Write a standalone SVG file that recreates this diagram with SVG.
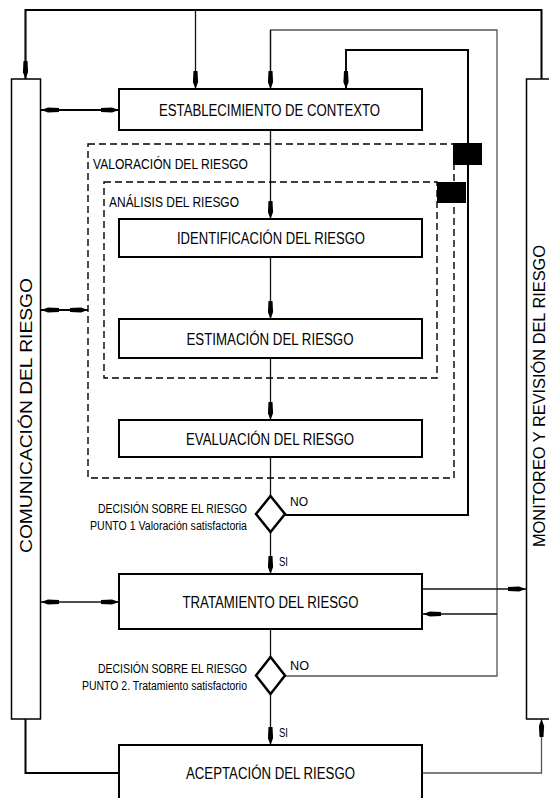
<svg xmlns="http://www.w3.org/2000/svg" width="549" height="798" viewBox="0 0 549 798">
<style>
.box{fill:#fff;stroke:#000;stroke-width:2}
.side{fill:#fff;stroke:#000;stroke-width:1.5}
.dash{fill:none;stroke:#000;stroke-width:1.4;stroke-dasharray:7,4}
.ln{fill:none;stroke:#111;stroke-width:1.3}
.lnb{fill:none;stroke:#000;stroke-width:2}
.lg{fill:none;stroke:#555;stroke-width:1.3}
.arr{marker-end:url(#ah)}
.dbl{marker-end:url(#ah);marker-start:url(#ahs)}
.dia{fill:#fff;stroke:#000;stroke-width:2.5}
text{font-family:"Liberation Sans",Arial,sans-serif;fill:#000}
.lbl{font-size:16px;text-anchor:middle}
.grp{font-size:14px}
.sm{font-size:12px}
</style>
<defs>
<marker id="ah" viewBox="-19 -3 19 6" refX="0" refY="0" markerWidth="19" markerHeight="6" markerUnits="userSpaceOnUse" orient="auto">
<path d="M0,0 L-7,-2.6 L-18,-2 L-18,2 L-7,2.6 Z" fill="#000"/>
</marker>
<marker id="ahs" viewBox="-19 -3 19 6" refX="0" refY="0" markerWidth="19" markerHeight="6" markerUnits="userSpaceOnUse" orient="auto-start-reverse">
<path d="M0,0 L-7,-2.6 L-18,-2 L-18,2 L-7,2.6 Z" fill="#000"/>
</marker>
</defs>
<rect width="549" height="798" fill="#fff"/>

<g id="connectors">
<!-- top feedback line -->
<path class="lnb" d="M25.5,79 V10 H541.5 V79"/>
<path class="ln arr" d="M25.5,10 V79"/>
<path class="ln arr" d="M195.5,10 V89"/>
<!-- loop from decision 2 -->
<path class="lg" d="M285,676 H497 V30 H270.5 V89"/>
<path class="ln arr" d="M270.5,30 V89"/>
<path class="ln arr" d="M497,614 H423"/>
<!-- loop from decision 1 -->
<path class="lnb" d="M285,515 H468 V50 H346 V89"/>
<path class="ln arr" d="M346,50 V89"/>
<!-- main flow -->
<path class="ln arr" d="M270.5,130 V219"/>
<path class="ln arr" d="M270.5,257 V319"/>
<path class="ln arr" d="M270.5,358 V420"/>
<path class="ln" d="M270.5,457 V496"/>
<path class="ln arr" d="M270.5,532 V574"/>
<path class="ln" d="M270.5,629 V657"/>
<path class="ln arr" d="M270.5,694 V745"/>
<!-- communication arrows -->
<path class="lnb dbl" d="M41,110 H119"/>
<path class="lnb dbl" d="M41,310 H88"/>
<path class="ln dbl" d="M41,602 H119"/>
<!-- monitoring arrows -->
<path class="ln arr" d="M422,589 H526"/>
<path class="lnb" d="M25.5,719 V773 H119"/>
<path class="lg arr" d="M422,773 H541.5 V719"/>
</g>

<g id="valoracion">
<rect class="dash" x="88" y="144" width="366" height="334"/>
<text class="grp" x="93" y="168.5" textLength="155" lengthAdjust="spacingAndGlyphs">VALORACIÓN DEL RIESGO</text>
</g>
<g id="analisis">
<rect class="dash" x="104" y="182" width="333" height="196"/>
<text class="grp" x="109" y="206.5" textLength="130" lengthAdjust="spacingAndGlyphs">ANÁLISIS DEL RIESGO</text>
</g>
<rect x="453" y="143" width="29" height="22" fill="#000"/>
<rect x="437" y="182" width="29" height="21" fill="#000"/>

<g id="comunicacion">
<rect class="side" x="11.5" y="79" width="29" height="640"/>
<text class="lbl" transform="translate(31.5,415.5) rotate(-90)" x="0" y="0" textLength="275" lengthAdjust="spacingAndGlyphs">COMUNICACIÓN DEL RIESGO</text>
</g>
<g id="monitoreo">
<rect class="side" x="526.5" y="79" width="40" height="640"/>
<text class="lbl" transform="translate(544.5,396) rotate(-90)" x="0" y="0" textLength="302" lengthAdjust="spacingAndGlyphs">MONITOREO Y REVISIÓN DEL RIESGO</text>
</g>

<g id="contexto">
<rect class="box" x="119" y="89" width="303" height="41"/>
<text class="lbl" x="269.5" y="116" textLength="221" lengthAdjust="spacingAndGlyphs">ESTABLECIMIENTO DE CONTEXTO</text>
</g>
<g id="identificacion">
<rect class="box" x="119" y="219" width="303" height="38"/>
<text class="lbl" x="271" y="244" textLength="188" lengthAdjust="spacingAndGlyphs">IDENTIFICACIÓN DEL RIESGO</text>
</g>
<g id="estimacion">
<rect class="box" x="119" y="319" width="303" height="39"/>
<text class="lbl" x="270" y="344.5" textLength="167" lengthAdjust="spacingAndGlyphs">ESTIMACIÓN DEL RIESGO</text>
</g>
<g id="evaluacion">
<rect class="box" x="119" y="420" width="303" height="37"/>
<text class="lbl" x="270" y="444.5" textLength="168" lengthAdjust="spacingAndGlyphs">EVALUACIÓN DEL RIESGO</text>
</g>
<g id="decision1">
<path class="dia" d="M270.5,496 L285,514 L270.5,532 L256,514 Z"/>
<text class="sm" x="98" y="512.5" textLength="149" lengthAdjust="spacingAndGlyphs">DECISIÓN SOBRE EL RIESGO</text>
<text class="sm" x="90" y="529.5" textLength="157" lengthAdjust="spacingAndGlyphs">PUNTO 1 Valoración satisfactoria</text>
<text class="sm" x="290" y="506" textLength="18" lengthAdjust="spacingAndGlyphs">NO</text>
<text class="sm" x="279" y="566" textLength="9" lengthAdjust="spacingAndGlyphs">SI</text>
</g>
<g id="tratamiento">
<rect class="box" x="119" y="574" width="303" height="55"/>
<text class="lbl" x="270.5" y="608" textLength="176" lengthAdjust="spacingAndGlyphs">TRATAMIENTO DEL RIESGO</text>
</g>
<g id="decision2">
<path class="dia" d="M270.5,657 L285,675.5 L270.5,694 L256,675.5 Z"/>
<text class="sm" x="98" y="672.5" textLength="149" lengthAdjust="spacingAndGlyphs">DECISIÓN SOBRE EL RIESGO</text>
<text class="sm" x="82" y="689.5" textLength="165" lengthAdjust="spacingAndGlyphs">PUNTO 2. Tratamiento satisfactorio</text>
<text class="sm" x="290" y="669.5" textLength="19" lengthAdjust="spacingAndGlyphs">NO</text>
<text class="sm" x="279" y="737" textLength="9" lengthAdjust="spacingAndGlyphs">SI</text>
</g>
<g id="aceptacion">
<rect class="box" x="119" y="745" width="303" height="70"/>
<text class="lbl" x="270.5" y="779" textLength="169" lengthAdjust="spacingAndGlyphs">ACEPTACIÓN DEL RIESGO</text>
</g>
</svg>
